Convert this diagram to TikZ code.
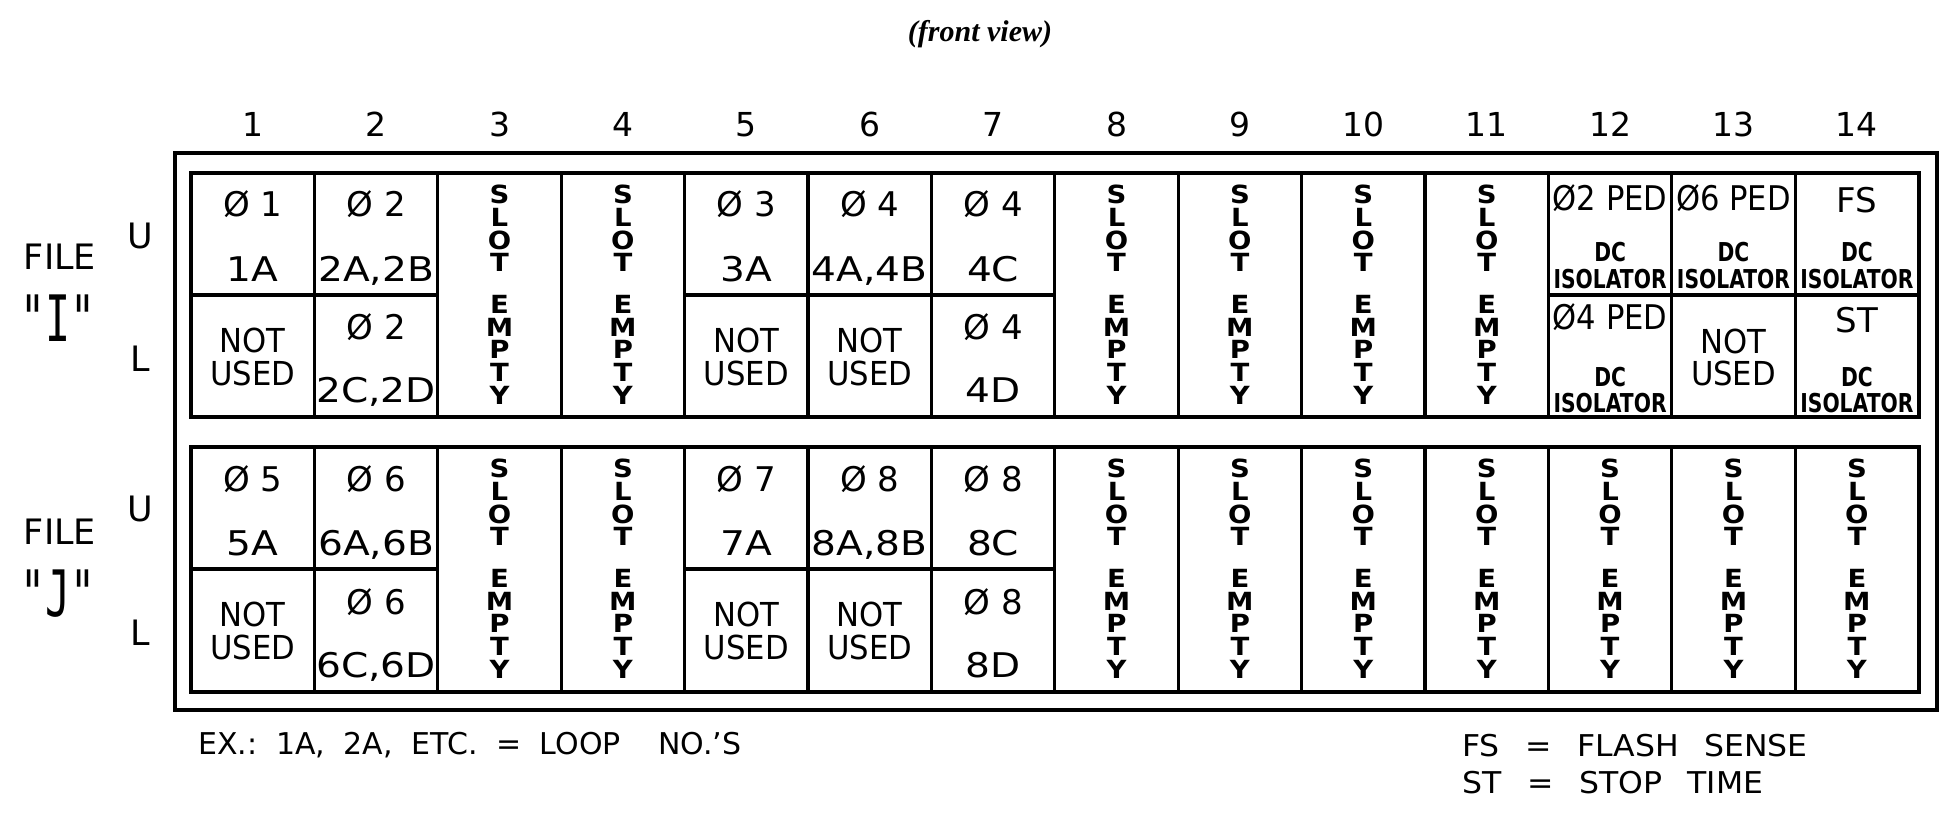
\documentclass[tikz,border=0pt]{standalone}
\usepackage{fontspec}
\usepackage{graphicx}
\newfontfamily\plot{DejaVu Sans}
\newfontfamily\plotc[FakeStretch=0.9]{DejaVu Sans}
\newfontfamily\plotn[FakeStretch=0.93]{DejaVu Sans}
\newfontfamily\plotx[FakeStretch=1.15]{DejaVu Sans}
\newfontfamily\plotw[FakeStretch=1.1]{DejaVu Sans}
\newfontfamily\plotbc[FakeStretch=0.78]{DejaVu Sans}
\newfontfamily\plotf[FakeStretch=1.05]{DejaVu Sans}
\newfontfamily\plotm[FakeStretch=0.65]{DejaVu Sans Mono}
\newfontfamily\titlef{Liberation Serif}
\newcommand\slottext{S\\L\\O\\T\\[9.7pt]E\\M\\P\\T\\Y}
\newcommand\gapw{\hspace{0.62em}}
\newcommand\gapf{\hspace{0.85em}}
\newcommand\cx[1]{{191+123.4*(#1-0.5)}}
\tikzset{
  heavy/.style={line width=2pt},
  div/.style={line width=1.6pt},
  t17/.style={inner sep=0pt, font=\plot\fontsize{17}{17}\selectfont, text height=12.4pt, text depth=0pt},
  code/.style={inner sep=0pt, font=\plotx\fontsize{17}{17}\selectfont, text height=12.4pt, text depth=0pt},
  nu/.style={inner sep=0pt, font=\plotn\fontsize{16.5}{16.5}\selectfont, text height=12pt, text depth=0pt},
  ped/.style={inner sep=0pt, font=\plotc\fontsize{17}{17}\selectfont, text height=12.4pt, text depth=0pt},
  iso/.style={inner sep=0pt, font=\plotbc\bfseries\fontsize{13}{13}\selectfont, text height=9.5pt, text depth=0pt},
  colnum/.style={inner sep=0pt, font=\plot\fontsize{16.5}{16.5}\selectfont, text height=12pt, text depth=0pt},
  slot/.style={inner sep=0pt, anchor=north, align=center, font=\plotw\bfseries\fontsize{12.5}{11.3}\selectfont},
  lab/.style={inner sep=0pt, font=\plot\fontsize{17.5}{17.5}\selectfont, text height=12.8pt, text depth=0pt},
  qlab/.style={inner sep=0pt, font=\plotm\fontsize{32}{32}\selectfont, text height=23.3pt, text depth=0pt},
  foot/.style={inner sep=0pt, anchor=west, font=\plot\fontsize{15}{15}\selectfont, text height=10.9pt, text depth=0pt},
  footf/.style={inner sep=0pt, anchor=west, font=\plotf\fontsize{15}{15}\selectfont, text height=10.9pt, text depth=0pt},
  ttl/.style={inner sep=0pt, font=\titlef\bfseries\itshape\fontsize{15}{15}\selectfont}
}
\begin{document}
\begin{tikzpicture}[x=0.5pt,y=-0.5pt]
\useasboundingbox (0,0) rectangle (1960,819);
% title
\node[ttl] (title) at (980,34) {(front view)};
% column numbers
\foreach \c in {1,...,14} \node[colnum] (n\c) at (\cx{\c},124) {\c};
% frames
\draw[heavy] (175,153) rectangle (1937,710);
\draw[heavy] (191,173) rectangle (1918.6,417);
\draw[heavy] (191,447) rectangle (1918.6,692);
\foreach \i in {1,...,13} {
  \draw[div] ({191+123.4*\i},173) -- ({191+123.4*\i},417);
  \draw[div] ({191+123.4*\i},447) -- ({191+123.4*\i},692);
}
\draw[div] (191,295) -- (437.8,295);
\draw[div] (684.6,295) -- (1054.8,295);
\draw[div] (1548.4,295) -- (1918.6,295);
\draw[div] (191,569) -- (437.8,569);
\draw[div] (684.6,569) -- (1054.8,569);
% row labels
\node[lab] (fileI) at (60,257) {FILE};
\node[qlab] (nameI) at (58,318) {"I"};
\node[lab] (uI) at (140,236) {U};
\node[lab] (lI) at (140,359) {L};
\node[lab] (fileJ) at (60,532) {FILE};
\node[qlab] (nameJ) at (58,593) {"J"};
\node[lab] (uJ) at (140,509) {U};
\node[lab] (lJ) at (140,633) {L};
% ---- file I ----
\node[t17] (I1a) at (\cx{1},204) {Ø 1};
\node[code] (I1b) at (\cx{1},269) {1A};
\node[nu] (I1c) at (\cx{1},340) {NOT};
\node[nu] (I1d) at (\cx{1},373) {USED};
\node[t17] (I2a) at (\cx{2},204) {Ø 2};
\node[code] (I2b) at (\cx{2},269) {2A,2B};
\node[t17] (I2c) at (\cx{2},327) {Ø 2};
\node[code] (I2d) at (\cx{2},390) {2C,2D};
\node[t17] (I5a) at (\cx{5},204) {Ø 3};
\node[code] (I5b) at (\cx{5},269) {3A};
\node[nu] (I5c) at (\cx{5},340) {NOT};
\node[nu] (I5d) at (\cx{5},373) {USED};
\node[t17] (I6a) at (\cx{6},204) {Ø 4};
\node[code] (I6b) at (\cx{6},269) {4A,4B};
\node[nu] (I6c) at (\cx{6},340) {NOT};
\node[nu] (I6d) at (\cx{6},373) {USED};
\node[t17] (I7a) at (\cx{7},204) {Ø 4};
\node[code] (I7b) at (\cx{7},269) {4C};
\node[t17] (I7c) at (\cx{7},327) {Ø 4};
\node[code] (I7d) at (\cx{7},390) {4D};
\foreach \c in {3,4,8,9,10,11} \node[slot] (sI\c) at (\cx{\c},185) {\slottext};
\node[ped] (I12a) at (\cx{12},198) {Ø2 PED};
\node[iso] (I12b) at (\cx{12},252) {DC};
\node[iso] (I12c) at (\cx{12},279) {ISOLATOR};
\node[ped] (I12d) at (\cx{12},317) {Ø4 PED};
\node[iso] (I12e) at (\cx{12},377) {DC};
\node[iso] (I12f) at (\cx{12},403) {ISOLATOR};
\node[ped] (I13a) at (\cx{13},198) {Ø6 PED};
\node[iso] (I13b) at (\cx{13},252) {DC};
\node[iso] (I13c) at (\cx{13},279) {ISOLATOR};
\node[nu] (I13d) at (\cx{13},341) {NOT};
\node[nu] (I13e) at (\cx{13},373) {USED};
\node[t17] (I14a) at (\cx{14},200) {FS};
\node[iso] (I14b) at (\cx{14},252) {DC};
\node[iso] (I14c) at (\cx{14},279) {ISOLATOR};
\node[t17] (I14d) at (\cx{14},320) {ST};
\node[iso] (I14e) at (\cx{14},377) {DC};
\node[iso] (I14f) at (\cx{14},403) {ISOLATOR};
% ---- file J ----
\node[t17] (J1a) at (\cx{1},479) {Ø 5};
\node[code] (J1b) at (\cx{1},543) {5A};
\node[nu] (J1c) at (\cx{1},614) {NOT};
\node[nu] (J1d) at (\cx{1},647) {USED};
\node[t17] (J2a) at (\cx{2},479) {Ø 6};
\node[code] (J2b) at (\cx{2},543) {6A,6B};
\node[t17] (J2c) at (\cx{2},602) {Ø 6};
\node[code] (J2d) at (\cx{2},665) {6C,6D};
\node[t17] (J5a) at (\cx{5},479) {Ø 7};
\node[code] (J5b) at (\cx{5},543) {7A};
\node[nu] (J5c) at (\cx{5},614) {NOT};
\node[nu] (J5d) at (\cx{5},647) {USED};
\node[t17] (J6a) at (\cx{6},479) {Ø 8};
\node[code] (J6b) at (\cx{6},543) {8A,8B};
\node[nu] (J6c) at (\cx{6},614) {NOT};
\node[nu] (J6d) at (\cx{6},647) {USED};
\node[t17] (J7a) at (\cx{7},479) {Ø 8};
\node[code] (J7b) at (\cx{7},543) {8C};
\node[t17] (J7c) at (\cx{7},602) {Ø 8};
\node[code] (J7d) at (\cx{7},665) {8D};
\foreach \c in {3,4,8,9,10,11,12,13,14} \node[slot] (sJ\c) at (\cx{\c},459) {\slottext};
% footers
\node[foot] (ex) at (198,744) {EX.:\gapw 1A,\gapw 2A,\gapw ETC.\gapw =\gapw LOOP\gapw\gapw NO.’S};
\node[footf] (fs) at (1462,746) {FS\gapf =\gapf FLASH\gapf SENSE};
\node[footf] (st) at (1462,783) {ST\gapf =\gapf STOP\gapf TIME};
\end{tikzpicture}
\end{document}
